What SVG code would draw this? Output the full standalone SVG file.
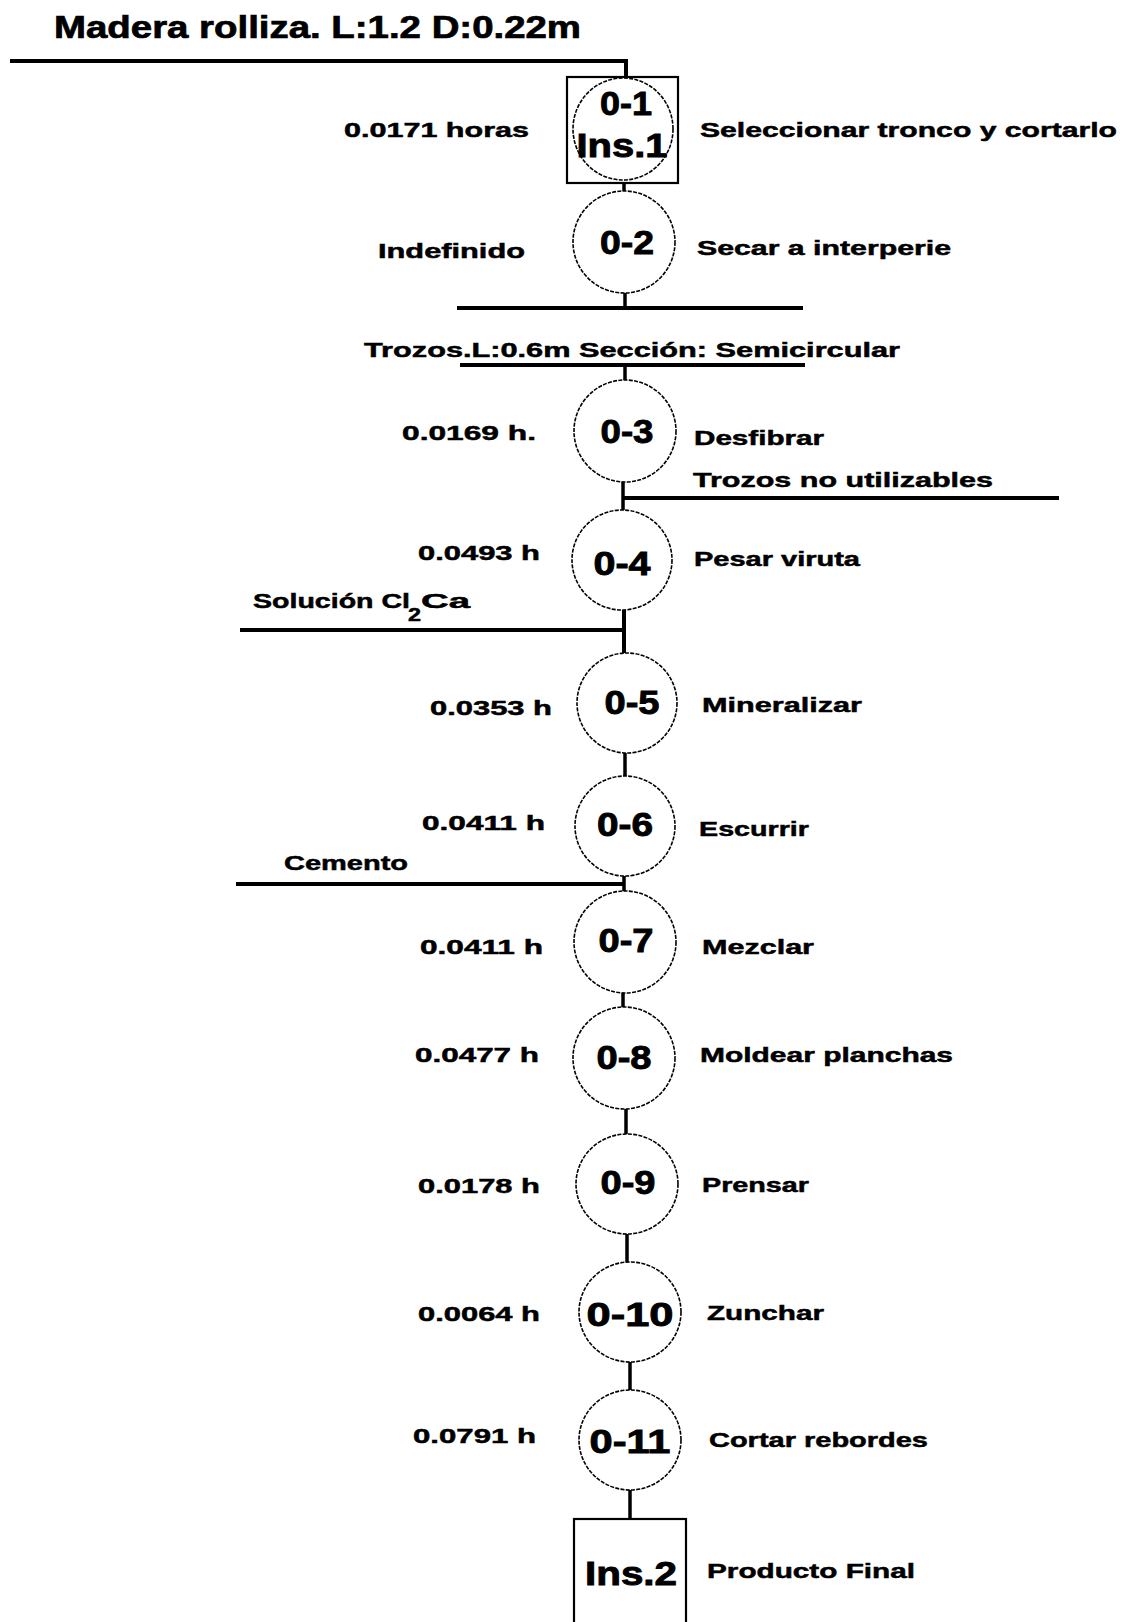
<svg xmlns="http://www.w3.org/2000/svg" width="1123" height="1622" viewBox="0 0 1123 1622">
  <style>
    .bg { fill: #ffffff; }
    .ln { stroke: #000; stroke-width: 4; fill: none; stroke-linecap: butt; }
    .cn { stroke: #000; stroke-width: 3.5; fill: none; }
    .op { stroke: #000; stroke-width: 1.6; fill: #fff; stroke-dasharray: 4 1.3; }
    .bx { stroke: #000; stroke-width: 2.2; fill: #fff; }
    .t { font-family: "Liberation Sans", Arial, sans-serif; font-weight: bold; font-size: 21px; fill: #000; stroke: #000; stroke-width: 0.5; }
    .n { font-family: "Liberation Sans", Arial, sans-serif; font-weight: bold; font-size: 34px; fill: #000; stroke: #000; stroke-width: 0.9; text-anchor: middle; }
    .title { font-family: "Liberation Sans", Arial, sans-serif; font-weight: bold; font-size: 31px; fill: #000; stroke: #000; stroke-width: 0.7; }
  </style>
  <rect class="bg" x="0" y="0" width="1123" height="1622"/>

  <!-- flow lines: inputs, outputs and links between operations -->
  <g id="connectors">
    <polyline class="ln" points="10,61 626,61 626,78"/>
    <line class="cn" x1="624" y1="183" x2="624" y2="192"/>
    <line class="cn" x1="625" y1="293" x2="625" y2="308"/>
    <line class="ln" x1="457" y1="308" x2="803" y2="308"/>
    <line class="ln" x1="460" y1="365" x2="805" y2="365"/>
    <line class="cn" x1="625" y1="365" x2="625" y2="381"/>
    <line class="cn" x1="623" y1="482" x2="623" y2="511"/>
    <line class="ln" x1="623" y1="498" x2="1059" y2="498"/>
    <line class="ln" x1="624" y1="610" x2="624" y2="654"/>
    <line class="ln" x1="240" y1="630" x2="624" y2="630"/>
    <line class="cn" x1="625" y1="753" x2="625" y2="777"/>
    <line class="cn" x1="624" y1="876" x2="624" y2="892"/>
    <line class="ln" x1="236" y1="884" x2="624" y2="884"/>
    <line class="cn" x1="623" y1="993" x2="623" y2="1008"/>
    <line class="cn" x1="626" y1="1109" x2="626" y2="1134"/>
    <line class="cn" x1="627" y1="1234" x2="627" y2="1263"/>
    <line class="cn" x1="630" y1="1362" x2="630" y2="1390"/>
    <line class="cn" x1="630" y1="1490" x2="630" y2="1519"/>
  </g>

  <!-- material labels on the flow lines -->
  <g id="materials">
    <text class="title" x="54" y="38" textLength="527" lengthAdjust="spacingAndGlyphs">Madera rolliza. L:1.2 D:0.22m</text>
    <text class="t" x="364" y="357" textLength="536" lengthAdjust="spacingAndGlyphs">Trozos.L:0.6m Sección: Semicircular</text>
    <text class="t" x="693" y="487" textLength="300" lengthAdjust="spacingAndGlyphs">Trozos no utilizables</text>
    <text class="t" x="253" y="608" textLength="157" lengthAdjust="spacingAndGlyphs">Solución Cl</text>
    <text class="t" x="408" y="621" style="font-size:18px" textLength="13" lengthAdjust="spacingAndGlyphs">2</text>
    <text class="t" x="421" y="608" textLength="49" lengthAdjust="spacingAndGlyphs">Ca</text>
    <text class="t" x="284" y="870" textLength="124" lengthAdjust="spacingAndGlyphs">Cemento</text>
  </g>

  <g id="op-0-1">
    <rect class="bx" x="567" y="77" width="111" height="106"/>
    <ellipse class="op" cx="623" cy="129" rx="50" ry="51"/>
    <text class="n" x="626" y="115" textLength="52" lengthAdjust="spacingAndGlyphs">0-1</text>
    <text class="n" x="622" y="157" textLength="91" lengthAdjust="spacingAndGlyphs">Ins.1</text>
    <text class="t" x="344" y="137" textLength="185" lengthAdjust="spacingAndGlyphs">0.0171 horas</text>
    <text class="t" x="700" y="137" textLength="417" lengthAdjust="spacingAndGlyphs">Seleccionar tronco y cortarlo</text>
  </g>

  <g id="op-0-2">
    <ellipse class="op" cx="624" cy="242" rx="51" ry="51"/>
    <text class="n" x="627" y="254" textLength="54" lengthAdjust="spacingAndGlyphs">0-2</text>
    <text class="t" x="378" y="258" textLength="147" lengthAdjust="spacingAndGlyphs">Indefinido</text>
    <text class="t" x="697" y="255" textLength="254" lengthAdjust="spacingAndGlyphs">Secar a interperie</text>
  </g>

  <g id="op-0-3">
    <ellipse class="op" cx="625" cy="431" rx="51" ry="51"/>
    <text class="n" x="627" y="443" textLength="53" lengthAdjust="spacingAndGlyphs">0-3</text>
    <text class="t" x="402" y="440" textLength="134" lengthAdjust="spacingAndGlyphs">0.0169 h.</text>
    <text class="t" x="694" y="445" textLength="130" lengthAdjust="spacingAndGlyphs">Desfibrar</text>
  </g>

  <g id="op-0-4">
    <ellipse class="op" cx="622" cy="560" rx="50" ry="50"/>
    <text class="n" x="622" y="575" textLength="57" lengthAdjust="spacingAndGlyphs">0-4</text>
    <text class="t" x="418" y="560" textLength="122" lengthAdjust="spacingAndGlyphs">0.0493 h</text>
    <text class="t" x="694" y="566" textLength="166" lengthAdjust="spacingAndGlyphs">Pesar viruta</text>
  </g>

  <g id="op-0-5">
    <ellipse class="op" cx="627" cy="703" rx="50" ry="50"/>
    <text class="n" x="632" y="714" textLength="55" lengthAdjust="spacingAndGlyphs">0-5</text>
    <text class="t" x="430" y="715" textLength="122" lengthAdjust="spacingAndGlyphs">0.0353 h</text>
    <text class="t" x="702" y="712" textLength="160" lengthAdjust="spacingAndGlyphs">Mineralizar</text>
  </g>

  <g id="op-0-6">
    <ellipse class="op" cx="625" cy="826" rx="50" ry="50"/>
    <text class="n" x="625" y="836" textLength="56" lengthAdjust="spacingAndGlyphs">0-6</text>
    <text class="t" x="422" y="830" textLength="123" lengthAdjust="spacingAndGlyphs">0.0411 h</text>
    <text class="t" x="699" y="836" textLength="110" lengthAdjust="spacingAndGlyphs">Escurrir</text>
  </g>

  <g id="op-0-7">
    <ellipse class="op" cx="625" cy="942" rx="51" ry="51"/>
    <text class="n" x="626" y="952" textLength="55" lengthAdjust="spacingAndGlyphs">0-7</text>
    <text class="t" x="420" y="954" textLength="123" lengthAdjust="spacingAndGlyphs">0.0411 h</text>
    <text class="t" x="702" y="954" textLength="112" lengthAdjust="spacingAndGlyphs">Mezclar</text>
  </g>

  <g id="op-0-8">
    <ellipse class="op" cx="624" cy="1058" rx="51" ry="51"/>
    <text class="n" x="624" y="1069" textLength="55" lengthAdjust="spacingAndGlyphs">0-8</text>
    <text class="t" x="415" y="1062" textLength="124" lengthAdjust="spacingAndGlyphs">0.0477 h</text>
    <text class="t" x="700" y="1062" textLength="253" lengthAdjust="spacingAndGlyphs">Moldear planchas</text>
  </g>

  <g id="op-0-9">
    <ellipse class="op" cx="627" cy="1184" rx="51" ry="50"/>
    <text class="n" x="628" y="1194" textLength="55" lengthAdjust="spacingAndGlyphs">0-9</text>
    <text class="t" x="418" y="1193" textLength="122" lengthAdjust="spacingAndGlyphs">0.0178 h</text>
    <text class="t" x="702" y="1192" textLength="107" lengthAdjust="spacingAndGlyphs">Prensar</text>
  </g>

  <g id="op-0-10">
    <ellipse class="op" cx="630" cy="1312" rx="51" ry="50"/>
    <text class="n" x="630" y="1326" textLength="87" lengthAdjust="spacingAndGlyphs">0-10</text>
    <text class="t" x="418" y="1321" textLength="122" lengthAdjust="spacingAndGlyphs">0.0064 h</text>
    <text class="t" x="707" y="1320" textLength="117" lengthAdjust="spacingAndGlyphs">Zunchar</text>
  </g>

  <g id="op-0-11">
    <ellipse class="op" cx="630" cy="1440" rx="51" ry="50"/>
    <text class="n" x="630" y="1453" textLength="81" lengthAdjust="spacingAndGlyphs">0-11</text>
    <text class="t" x="413" y="1443" textLength="123" lengthAdjust="spacingAndGlyphs">0.0791 h</text>
    <text class="t" x="709" y="1447" textLength="219" lengthAdjust="spacingAndGlyphs">Cortar rebordes</text>
  </g>

  <g id="ins-2">
    <rect class="bx" x="574" y="1519" width="112" height="130"/>
    <text class="n" x="631" y="1585" textLength="92" lengthAdjust="spacingAndGlyphs">Ins.2</text>
    <text class="t" x="707" y="1578" textLength="208" lengthAdjust="spacingAndGlyphs">Producto Final</text>
  </g>
</svg>
